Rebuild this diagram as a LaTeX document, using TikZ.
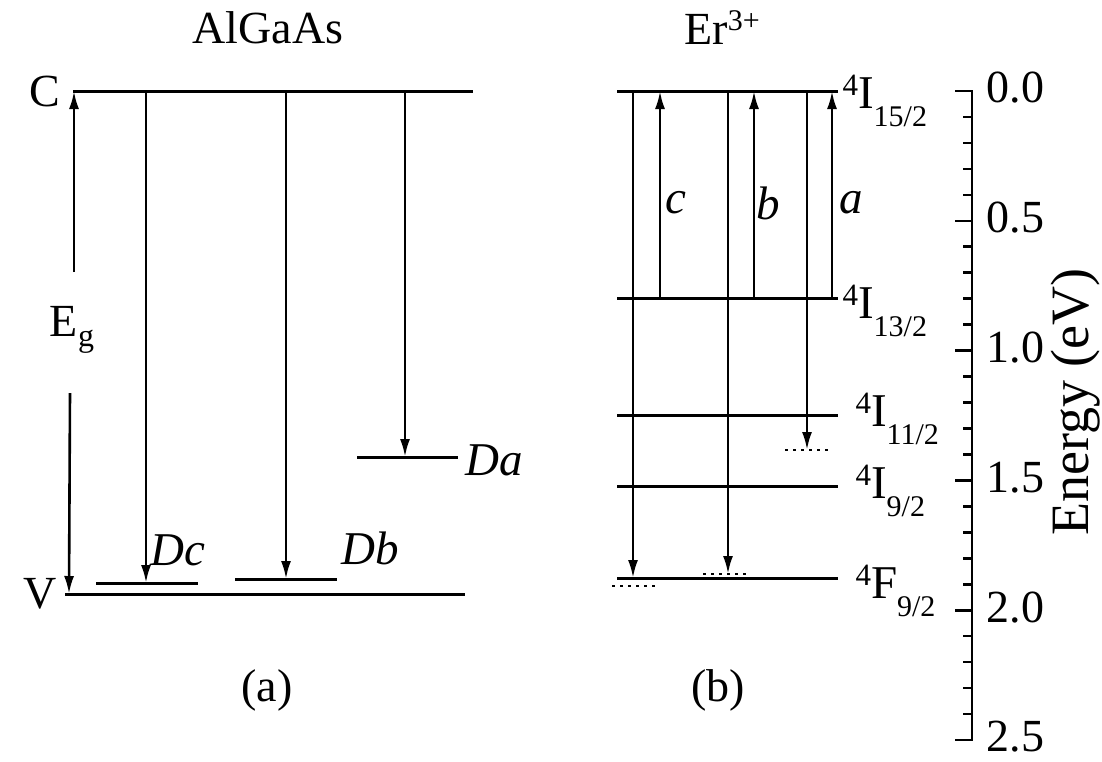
\documentclass[tikz,border=0pt]{standalone}
\usepackage{fontspec}
\setmainfont{Liberation Serif}
\usetikzlibrary{arrows.meta}
\newcommand\fz[1]{\fontsize{#1}{#1}\selectfont}
\newcommand\lvlab[3]{{\fz{31}\raisebox{13pt}{#1}}{\fz{47}#2}{\fz{30}\raisebox{-18pt}{#3}}}
\begin{document}
\begin{tikzpicture}[x=1pt,y=-1pt,line width=3pt,
  arr/.style={-{Latex[length=18pt,width=10pt]},line width=2.6pt},
  dots/.style={dash pattern=on 3pt off 5pt,line width=2.4pt},
  txt/.style={inner sep=0pt,font=\fz{46}},
  itxt/.style={inner sep=0pt,font=\fz{47}\itshape},
  lab/.style={inner sep=0pt,anchor=base west},
  tk/.style={line width=2.6pt}]
\useasboundingbox (0,0) rectangle (1102,761);
% ---------- (a) AlGaAs ----------
\node[txt] (tA) at (268,28) {AlGaAs};
\node[txt] (pa) at (267,690) {(a)};
\coordinate (C1) at (73,91);  \coordinate (C2) at (473,91);
\coordinate (V1) at (65,594); \coordinate (V2) at (465,594);
\draw (C1) -- (C2);
\draw (V1) -- (V2);
\node[txt] (Cl) at (45,91) {C};
\node[txt] (Vl) at (40,594) {V};
\coordinate (Eg1) at (74,272); \coordinate (Egt) at (74,91);
\coordinate (Eg2) at (70,393); \coordinate (Egb) at (69,594);
\draw[arr] (Eg1) -- (Egt);
\draw[arr] (Eg2) -- (Egb);
\node[txt] (Eg) at (72,330) {E\raisebox{-10pt}{\fz{32}g}};
% Dc
\coordinate (dc1) at (96,583); \coordinate (dc2) at (198,583);
\draw (dc1) -- (dc2);
\coordinate (dcs) at (146,91); \coordinate (dce) at (146,583);
\draw[arr] (dcs) -- (dce);
\node[itxt] (Dc) at (178,550) {Dc};
% Db
\coordinate (db1) at (235,579); \coordinate (db2) at (337,579);
\draw (db1) -- (db2);
\coordinate (dbs) at (286,91); \coordinate (dbe) at (286,579);
\draw[arr] (dbs) -- (dbe);
\node[itxt] (Db) at (370,548) {Db};
% Da
\coordinate (da1) at (357,457); \coordinate (da2) at (458,457);
\draw (da1) -- (da2);
\coordinate (das) at (405,91); \coordinate (dae) at (405,457);
\draw[arr] (das) -- (dae);
\node[itxt] (Da) at (494,460) {Da};
% ---------- (b) Er ----------
\node[txt] (tB) at (722,28) {Er\raisebox{14pt}{\fz{30}3+}};
\node[txt] (pb) at (718,690) {(b)};
\foreach \n/\y in {L1/91,L2/298,L3/415,L4/486,L5/578}{
  \coordinate (\n a) at (617,\y); \coordinate (\n b) at (838,\y);
  \draw (\n a) -- (\n b);}
% down arrows
\coordinate (s1) at (633,91); \coordinate (e1) at (633,578);
\coordinate (s2) at (728,91); \coordinate (e2) at (728,574);
\coordinate (s3) at (807,91); \coordinate (e3) at (807,450);
\draw[arr] (s1) -- (e1);
\draw[arr] (s2) -- (e2);
\draw[arr] (s3) -- (e3);
\coordinate (o1a) at (612,586); \coordinate (o1b) at (656,586);
\coordinate (o2a) at (703,574); \coordinate (o2b) at (746,574);
\coordinate (o3a) at (785,450); \coordinate (o3b) at (829,450);
\draw[dots] (o1a) -- (o1b);
\draw[dots] (o2a) -- (o2b);
\draw[dots] (o3a) -- (o3b);
% up arrows
\coordinate (u1) at (660,298); \coordinate (t1) at (660,91);
\coordinate (u2) at (754,298); \coordinate (t2) at (754,91);
\coordinate (u3) at (832,298); \coordinate (t3) at (832,91);
\draw[arr] (u1) -- (t1);
\draw[arr] (u2) -- (t2);
\draw[arr] (u3) -- (t3);
\node[itxt] (lc) at (676,203) {c};
\node[itxt] (lb) at (768,203) {b};
\node[itxt] (la) at (851,203) {a};
% level labels
\node[lab] (n15) at (841,108) {\lvlab{4}{I}{15/2}};
\node[lab] (n13) at (841,318) {\lvlab{4}{I}{13/2}};
\node[lab] (n11) at (854,426) {\lvlab{4}{I}{11/2}};
\node[lab] (n9)  at (854,498) {\lvlab{4}{I}{9/2}};
\node[lab] (nF)  at (854,598) {\lvlab{4}{F}{9/2}};
% ---------- axis ----------
\coordinate (ax0) at (972,91); \coordinate (ax1) at (972,740);
\coordinate (ax0t) at (955,91); \coordinate (ax1t) at (955,740);
\draw[tk] (ax0t) -- (ax0) -- (ax1) -- (ax1t);
\foreach \i in {1,...,24}{
  \pgfmathsetmacro\yy{91+25.96*\i}
  \pgfmathtruncatemacro\m{mod(\i,5)}
  \ifnum\m=0
    \draw[tk] (955,\yy) -- (972,\yy);
  \else
    \draw[tk] (963,\yy) -- (972,\yy);
  \fi}
\foreach \v/\k in {0.0/0,0.5/1,1.0/2,1.5/3,2.0/4,2.5/5}{
  \node[txt,anchor=west] (ax\k) at (985,{91+129.8*\k-3}) {\v};}
\node[txt,rotate=90,font=\fz{54}] (en) at (1076,402) {Energy (eV)};
\end{tikzpicture}
\end{document}
